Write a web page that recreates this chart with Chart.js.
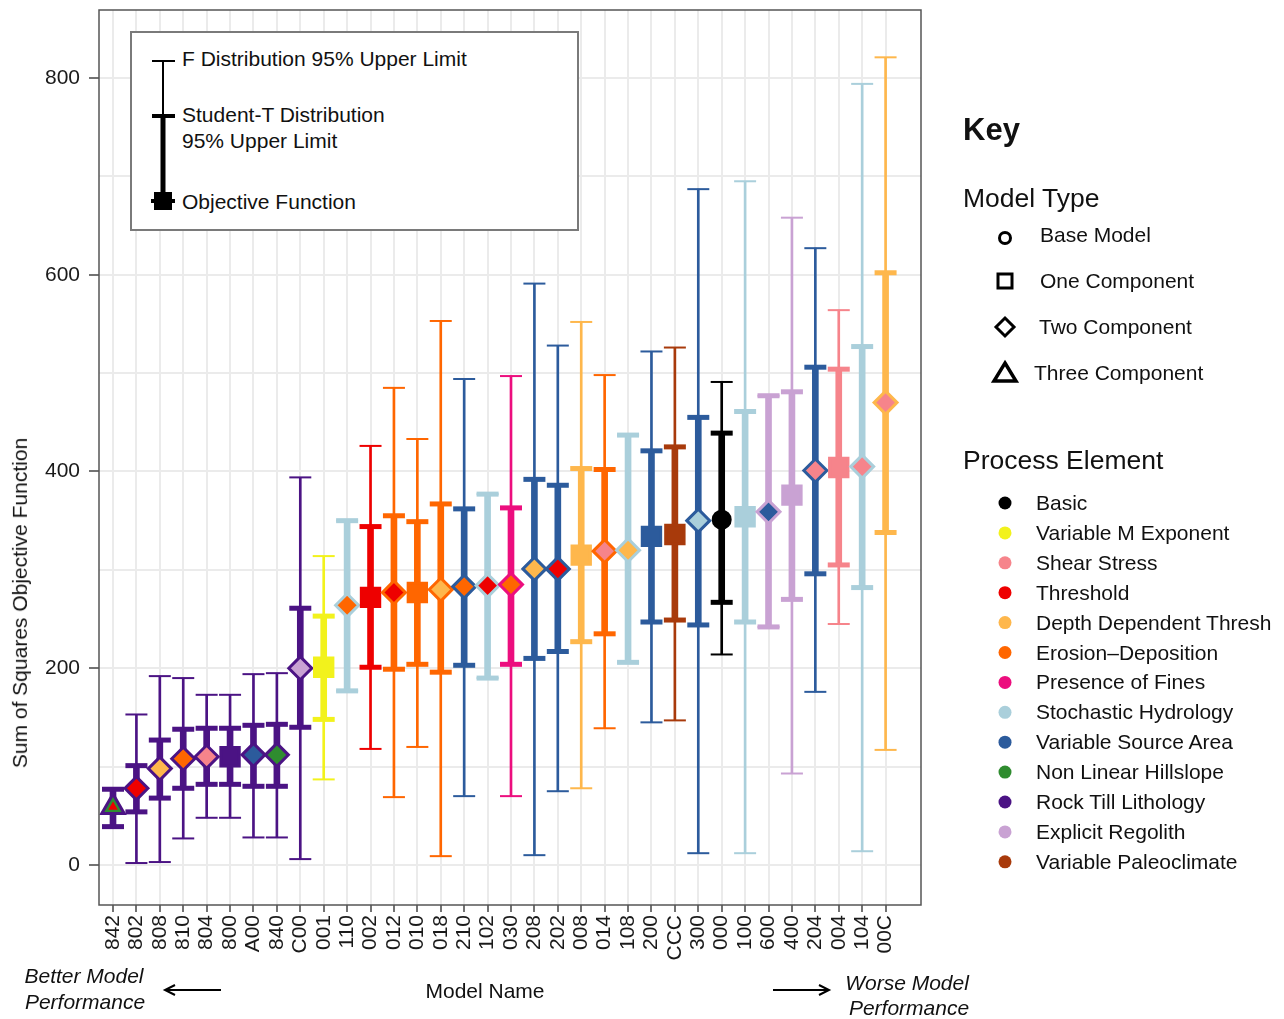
<!DOCTYPE html>
<html>
<head>
<meta charset="utf-8">
<script src="https://cdn.jsdelivr.net/npm/chart.js@4.4.1/dist/chart.umd.min.js"></script>
<style>
  body { margin: 0; background: #fff; }
  #wrap { position: relative; width: 1284px; height: 1019px; font-family: "Liberation Sans", Arial, sans-serif; color: #111; }
  #chart { position: absolute; left: 0; top: 0; }
  #ovl { position: absolute; left: 0; top: 0; pointer-events: none; }
  #lbox { position: absolute; left: 130px; top: 31px; width: 445px; height: 196px; border: 2px solid #7a7a7a; background: #fff; }
  .t { position: absolute; white-space: nowrap; transform: translateY(-50%); font-size: 21px; line-height: 1.15; }
</style>
</head>
<body>
<div id="wrap">
  <canvas id="chart" width="1284" height="1019"></canvas>
  <div id="lbox"></div>
  <svg id="ovl" width="1284" height="1019"></svg>
</div>
<script>
// -------- DATA --------
const models = ["842", "802", "808", "810", "804", "800", "A00", "840", "C00", "001", "110", "002",
  "012", "010", "018", "210", "102", "030", "208", "202", "008", "014", "108", "200", "CCC",
  "300", "000", "100", "600", "400", "204", "004", "104", "00C"];

const objective = [59, 78, 98, 108, 110, 110, 112, 112, 200, 201, 264, 272,
  277, 277, 280, 283, 284, 285, 301, 301, 315, 319, 320, 334, 336,
  350, 351, 354, 359, 376, 401, 404, 405, 470];

// Student-T 95% limits
const tLower = [39, 54, 68, 78, 82, 82, 80, 80, 140, 148, 177, 201,
  199, 204, 196, 203, 190, 204, 210, 217, 227, 235, 206, 247, 249,
  244, 267, 247, 242, 270, 296, 305, 282, 338];
const tUpper = [77, 101, 127, 138, 139, 139, 142, 143, 261, 253, 350, 344,
  355, 349, 367, 362, 377, 363, 392, 386, 403, 402, 437, 421, 425,
  455, 439, 461, 477, 481, 506, 504, 527, 602];

// F distribution 95% limits
const fLower = [39, 2, 3, 27, 48, 48, 28, 28, 6, 87, 177, 118,
  69, 120, 9, 70, 190, 70, 10, 75, 78, 139, 206, 145, 147,
  12, 214, 12, 242, 93, 176, 245, 14, 117];
const fUpper = [77, 153, 192, 190, 173, 173, 194, 195, 394, 314, 350, 426,
  485, 433, 553, 494, 377, 497, 591, 528, 552, 498, 437, 522, 526,
  687, 491, 695, 477, 658, 627, 564, 794, 821];

// B = base, 1/2/3 = number of components
const modelType = ["3", "2", "2", "2", "2", "1", "2", "2", "2", "1", "2", "1",
  "2", "1", "2", "2", "2", "2", "2", "2", "1", "2", "2", "1", "1",
  "2", "B", "1", "2", "1", "2", "1", "2", "2"];

const lineElement = ["RTL", "RTL", "RTL", "RTL", "RTL", "RTL", "RTL", "RTL", "RTL", "VME", "SH", "TH",
  "ED", "ED", "ED", "VSA", "SH", "PF", "VSA", "VSA", "DDT", "ED", "SH", "VSA", "VP",
  "VSA", "BAS", "SH", "ER", "ER", "VSA", "SS", "SH", "DDT"];
const fillElement = ["NLH", "TH", "DDT", "ED", "SS", "RTL", "VSA", "NLH", "ER", "VME", "ED", "TH",
  "TH", "ED", "DDT", "ED", "TH", "ED", "DDT", "TH", "DDT", "SS", "DDT", "VSA", "VP",
  "SH", "BAS", "SH", "VSA", "ER", "SS", "SS", "SS", "SS"];
const innerElement = ["TH", null, null, null, null, null, null, null, null, null, null, null,
  null, null, null, null, null, null, null, null, null, null, null, null, null,
  null, null, null, null, null, null, null, null, null];

const processCodes = ["BAS", "VME", "SS", "TH", "DDT", "ED", "PF", "SH", "VSA", "NLH", "RTL", "ER", "VP"];
const processNames = ["Basic", "Variable M Exponent", "Shear Stress", "Threshold", "Depth Dependent Thresh",
  "Erosion\u2013Deposition", "Presence of Fines", "Stochastic Hydrology", "Variable Source Area",
  "Non Linear Hillslope", "Rock Till Lithology", "Explicit Regolith", "Variable Paleoclimate"];
const processColors = ["#000000", "#f2f21c", "#f6848b", "#ee0000", "#feb74c", "#ff6600", "#ec0e7e",
  "#aacfdb", "#2c5b9c", "#2f8c2f", "#4b1384", "#c9a2d3", "#a83a0b"];

const modelTypeNames = ["Base Model", "One Component", "Two Component", "Three Component"];
const yGrid = [0, 100, 200, 300, 400, 500, 600, 700, 800];
const yLabels = [0, 200, 400, 600, 800];

// -------- HELPERS --------
const colorOf = {};
processCodes.forEach((c, i) => colorOf[c] = processColors[i]);
const shapeOf = { B: "circle", "1": "rect", "2": "rectRot", "3": "triangle" };
const sizeOf = { B: 8.5, "1": 13, "2": 11.5, "3": 13 };

const idx = models.map((m, i) => i);
const lineCol = lineElement.map(c => colorOf[c]);
const capPoints = (lo, hi) => idx.flatMap(i => [{ x: i, y: lo[i] }, { x: i, y: hi[i] }]);
const capColors = idx.flatMap(i => [lineCol[i], lineCol[i]]);
const withInner = idx.filter(i => innerElement[i]);

const FONT = "'Liberation Sans', Arial, sans-serif";

const panelBorder = {
  id: "panelBorder",
  afterDatasetsDraw(chart) {
    const { ctx, chartArea: a } = chart;
    ctx.save();
    ctx.strokeStyle = "#555";
    ctx.lineWidth = 1.5;
    ctx.strokeRect(a.left, a.top, a.right - a.left, a.bottom - a.top);
    ctx.restore();
  }
};

// -------- CHART --------
new Chart(document.getElementById("chart"), {
  type: "scatter",
  data: {
    datasets: [
      {
        label: "inner",
        data: withInner.map(i => ({ x: i, y: objective[i] })),
        pointStyle: "triangle",
        pointRadius: 5.5,
        pointBackgroundColor: withInner.map(i => colorOf[innerElement[i]]),
        pointBorderWidth: 0,
        order: 0
      },
      {
        label: "Objective Function",
        data: idx.map(i => ({ x: i, y: objective[i] })),
        pointStyle: modelType.map(t => shapeOf[t]),
        pointRadius: modelType.map(t => sizeOf[t]),
        pointBackgroundColor: fillElement.map(c => colorOf[c]),
        pointBorderColor: lineCol,
        pointBorderWidth: 3,
        order: 1
      },
      {
        label: "T caps",
        data: capPoints(tLower, tUpper),
        pointStyle: "line",
        pointRadius: 11,
        pointBorderColor: capColors,
        pointBorderWidth: 5,
        order: 2
      },
      {
        type: "bar",
        label: "Student-T",
        data: idx.map(i => ({ x: i, y: [tLower[i], tUpper[i]] })),
        backgroundColor: lineCol,
        barThickness: 6,
        grouped: false,
        order: 3
      },
      {
        label: "F caps",
        data: capPoints(fLower, fUpper),
        pointStyle: "line",
        pointRadius: 11,
        pointBorderColor: capColors,
        pointBorderWidth: 2,
        order: 4
      },
      {
        type: "bar",
        label: "F",
        data: idx.map(i => ({ x: i, y: [fLower[i], fUpper[i]] })),
        backgroundColor: lineCol,
        barThickness: 2,
        grouped: false,
        order: 5
      }
    ]
  },
  options: {
    responsive: false,
    animation: false,
    events: [],
    layout: { autoPadding: false, padding: { left: 0, top: 10, right: 363, bottom: 0 } },
    plugins: { legend: { display: false }, tooltip: { enabled: false } },
    scales: {
      x: {
        type: "linear",
        min: -0.598,
        max: 34.513,
        offset: false,
        afterBuildTicks: s => { s.ticks = idx.map(i => ({ value: i })); },
        afterFit: s => { s.height = 114; s.paddingLeft = 0; s.paddingRight = 0; },
        ticks: {
          callback: v => models[v],
          autoSkip: false,
          minRotation: 90,
          maxRotation: 90,
          padding: 3,
          color: "#1a1a1a",
          font: { family: FONT, size: 21 }
        },
        grid: { offset: false, color: "#ebebeb", lineWidth: 2, tickColor: "#444", tickLength: 7, tickWidth: 1.5 },
        border: { display: false }
      },
      y: {
        min: -40.66,
        max: 869.1,
        afterBuildTicks: s => { s.ticks = yGrid.map(v => ({ value: v })); },
        afterFit: s => { s.width = 99; s.paddingTop = 0; s.paddingBottom = 0; },
        ticks: {
          callback: v => yLabels.includes(v) ? String(v) : "",
          padding: 9,
          color: "#1a1a1a",
          font: { family: FONT, size: 21 }
        },
        grid: {
          color: "#ebebeb",
          lineWidth: 2,
          tickColor: c => yLabels.includes(c.tick.value) ? "#444" : "rgba(0,0,0,0)",
          tickLength: 10,
          tickWidth: 1.5
        },
        border: { display: false }
      }
    }
  },
  plugins: [panelBorder]
});

// -------- TEXT & KEY --------
const wrap = document.getElementById("wrap");
const svg = document.getElementById("ovl");
const NS = "http://www.w3.org/2000/svg";

function txt(s, x, y, style) {
  const d = document.createElement("div");
  d.className = "t";
  d.textContent = s;
  d.style.left = x + "px";
  d.style.top = y + "px";
  Object.assign(d.style, style || {});
  wrap.appendChild(d);
  return d;
}

function shape(tag, attrs) {
  const el = document.createElementNS(NS, tag);
  for (const k in attrs) el.setAttribute(k, attrs[k]);
  svg.appendChild(el);
  return el;
}

// legend box inside the panel
shape("line", { x1: 163, y1: 61, x2: 163, y2: 116, stroke: "#000", "stroke-width": 2 });
shape("line", { x1: 163, y1: 116, x2: 163, y2: 201, stroke: "#000", "stroke-width": 5 });
shape("line", { x1: 152, y1: 61, x2: 175, y2: 61, stroke: "#000", "stroke-width": 2 });
shape("line", { x1: 152, y1: 116, x2: 175, y2: 116, stroke: "#000", "stroke-width": 4 });
shape("line", { x1: 151, y1: 201, x2: 175, y2: 201, stroke: "#000", "stroke-width": 4 });
shape("rect", { x: 154, y: 192, width: 18, height: 18, fill: "#000" });
txt("F Distribution 95% Upper Limit", 182, 59);
txt("Student-T Distribution", 182, 115);
txt("95% Upper Limit", 182, 141);
txt("Objective Function", 182, 202);

// key: model type
txt("Key", 963, 130, { fontSize: "31px", fontWeight: "bold" });
txt("Model Type", 963, 198, { fontSize: "26.5px" });
shape("circle", { cx: 1005, cy: 238, r: 5.5, fill: "none", stroke: "#000", "stroke-width": 3 });
shape("rect", { x: 998, y: 274, width: 14, height: 14, fill: "none", stroke: "#000", "stroke-width": 3 });
shape("polygon", { points: "1005,318 1014,327 1005,336 996,327", fill: "none", stroke: "#000", "stroke-width": 3 });
shape("polygon", { points: "1005,363 1016,381 994,381", fill: "none", stroke: "#000", "stroke-width": 3.5 });
const typeX = [1040, 1040, 1039, 1034];
modelTypeNames.forEach((n, i) => txt(n, typeX[i], 235 + i * 46));

// key: process element
txt("Process Element", 963, 460, { fontSize: "26.5px" });
processNames.forEach((n, i) => {
  const y = 503 + i * 29.9;
  shape("circle", { cx: 1005, cy: y, r: 6.5, fill: processColors[i] });
  txt(n, 1036, y);
});

// axis titles and notes
const yt = txt("Sum of Squares Objective Function", 20, 603);
yt.style.transform = "translate(-50%, -50%) rotate(-90deg)";
txt("Model Name", 485, 991, { transform: "translate(-50%, -50%)" });
txt("Better Model", 84, 976, { transform: "translate(-50%, -50%)", fontStyle: "italic" });
txt("Performance", 85, 1002, { transform: "translate(-50%, -50%)", fontStyle: "italic" });
txt("Worse Model", 907, 983, { transform: "translate(-50%, -50%)", fontStyle: "italic" });
txt("Performance", 909, 1008, { transform: "translate(-50%, -50%)", fontStyle: "italic" });
shape("line", { x1: 166, y1: 990, x2: 221, y2: 990, stroke: "#000", "stroke-width": 2 });
shape("polyline", { points: "175,985 165,990 175,995", fill: "none", stroke: "#000", "stroke-width": 2 });
shape("line", { x1: 773, y1: 990, x2: 828, y2: 990, stroke: "#000", "stroke-width": 2 });
shape("polyline", { points: "819,985 829,990 819,995", fill: "none", stroke: "#000", "stroke-width": 2 });
</script>
</body>
</html>
